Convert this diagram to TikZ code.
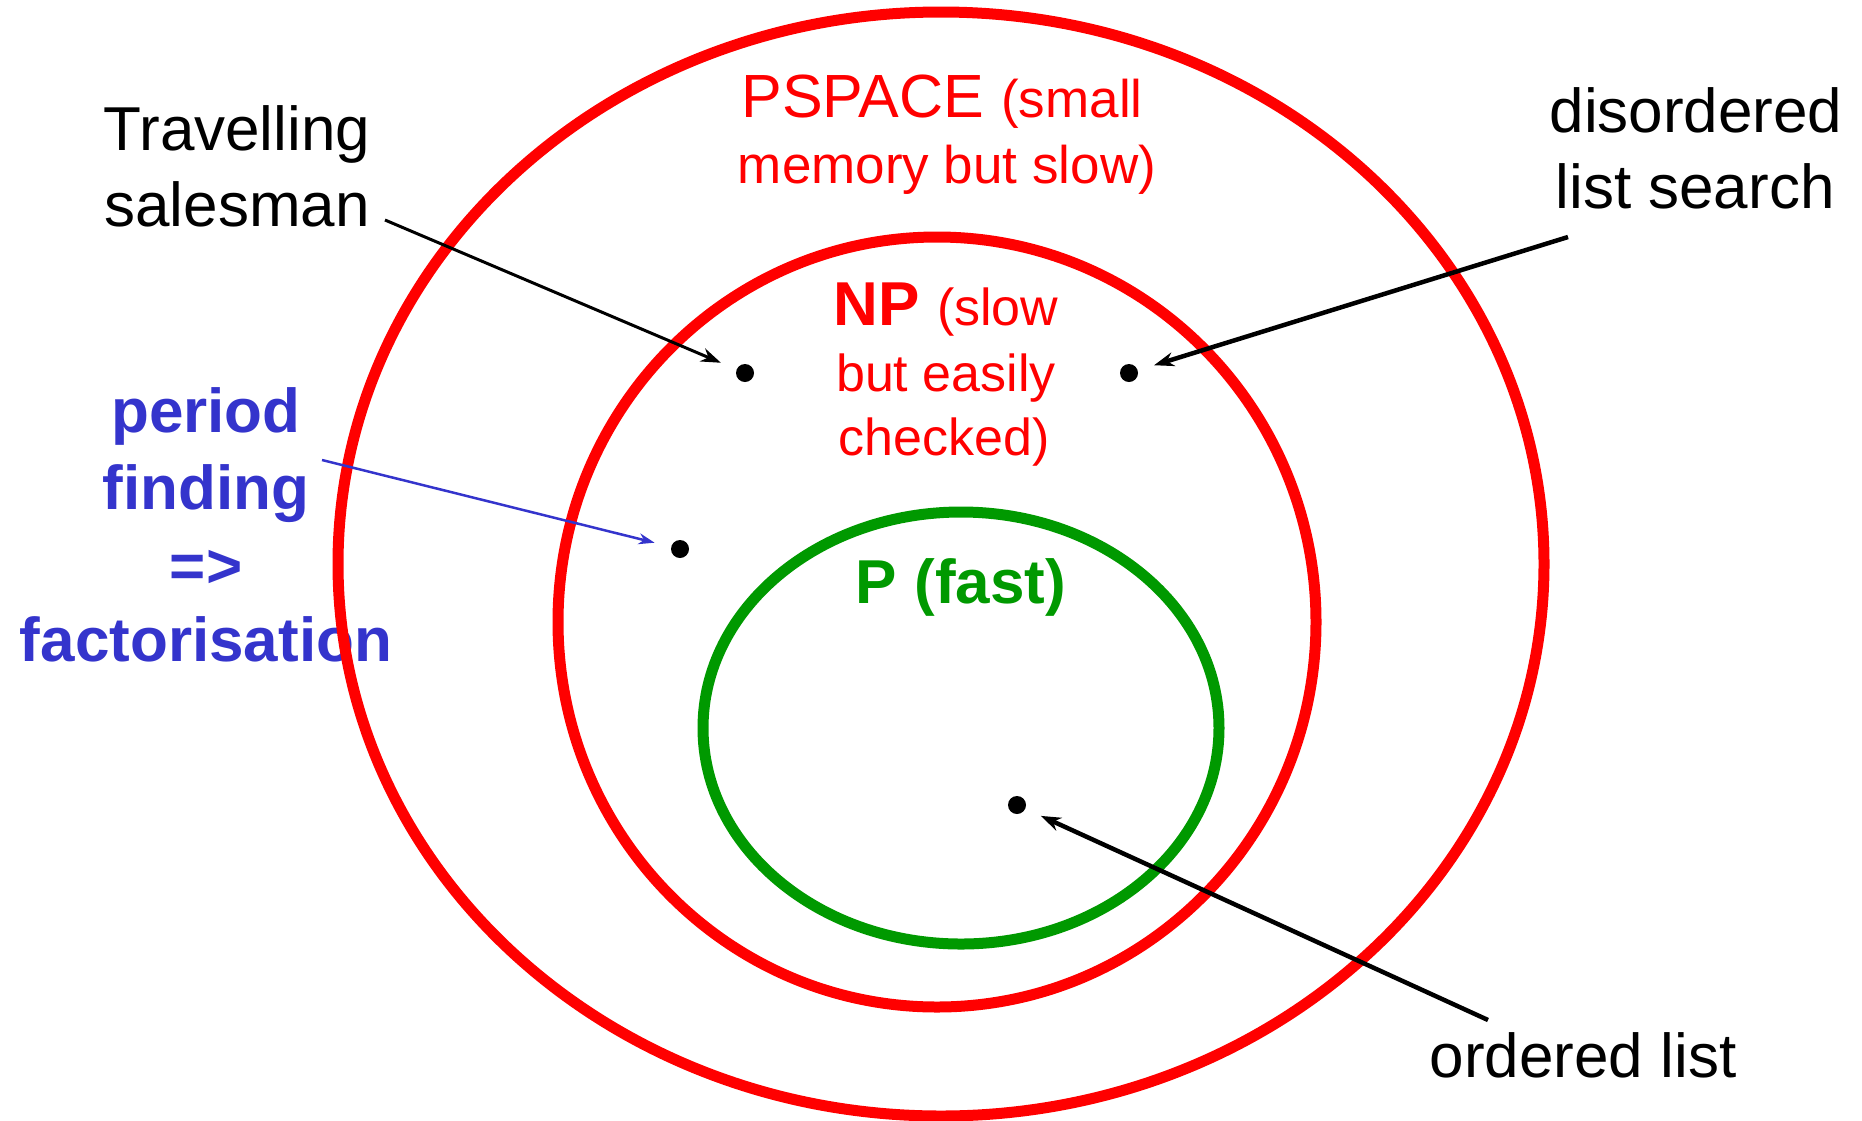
\documentclass[tikz,border=0pt]{standalone}
\usepackage{fontspec}
\setmainfont{Liberation Sans}
\usetikzlibrary{arrows.meta}
\definecolor{myred}{RGB}{255,0,0}
\definecolor{mygreen}{RGB}{0,153,0}
\definecolor{myblue}{RGB}{52,52,204}
\newcommand{\bigtxt}{\fontsize{62}{74}\selectfont}
\newcommand{\midtxt}{\fontsize{53}{64}\selectfont}
\begin{document}
\begin{tikzpicture}[x=1pt,y=-1pt,
  lbl/.style={inner sep=0pt,anchor=base},
  redring/.style={draw=myred,line width=11pt},
  greenring/.style={draw=mygreen,line width=11pt},
  dotnode/.style={circle,fill=black,minimum size=18pt,inner sep=0pt},
  pointer/.style={draw=black,-{Stealth[length=20pt,width=14pt]},shorten >=17pt},
  bluepointer/.style={draw=myblue,line width=2.5pt,-{Stealth[length=16pt,width=11pt]},shorten >=17pt}
]
\useasboundingbox (0,0) rectangle (1862,1120);

% left blue text (drawn under the rings)
\node[lbl,text=myblue] (pf1) at (206,432) {\bigtxt\bfseries period};
\node[lbl,text=myblue] (pf2) at (206,509) {\bigtxt\bfseries finding};
\node[lbl,text=myblue] (pf3) at (206,587) {\bigtxt\bfseries =>};
\node[lbl,text=myblue] (pf4) at (206,661) {\bigtxt\bfseries factorisation};

% rings
\draw[redring] (941,564) ellipse [x radius=603pt, y radius=552pt];
\draw[redring] (937,622) ellipse [x radius=379pt, y radius=385pt];
\draw[greenring] (961,728) ellipse [x radius=258pt, y radius=216pt];

% class labels
\node[lbl,text=myred] (ps1) at (942,117) {\fontsize{61}{70}\selectfont PSPACE \midtxt(small};
\node[lbl,text=myred] (ps2) at (947,183) {\midtxt memory but slow)};
\node[lbl,text=myred] (np1) at (946,325) {\fontsize{62}{70}\selectfont\bfseries NP \fontsize{52}{62}\mdseries\selectfont (slow};
\node[lbl,text=myred] (np2) at (946,391) {\fontsize{52}{62}\selectfont but easily};
\node[lbl,text=myred] (np3) at (944,455) {\fontsize{52}{62}\selectfont checked)};
\node[lbl,text=mygreen] (pl) at (961,603) {\bigtxt\bfseries P (fast)};

% other labels
\node[lbl] (ts1) at (237,150) {\bigtxt Travelling};
\node[lbl] (ts2) at (237,226) {\bigtxt salesman};
\node[lbl] (dl1) at (1696,132) {\bigtxt disordered};
\node[lbl] (dl2) at (1695,208) {\bigtxt list search};
\node[lbl] (ol) at (1583,1077) {\bigtxt ordered list};

% dots
\node[dotnode] (d1) at (745,373) {};
\node[dotnode] (d2) at (1129,373) {};
\node[dotnode] (d3) at (680,549) {};
\node[dotnode] (d4) at (1017,805) {};

% arrow start points
\coordinate (tsS) at (385,220);
\coordinate (dlS) at (1568,237);
\coordinate (pfS) at (322,460);
\coordinate (olS) at (1488,1020);

\draw[pointer,line width=3pt] (tsS) -- (d1);
\draw[pointer,line width=4.5pt] (dlS) -- (d2);
\draw[bluepointer] (pfS) -- (d3);
\draw[pointer,line width=4.5pt] (olS) -- (d4);
\end{tikzpicture}
\end{document}
